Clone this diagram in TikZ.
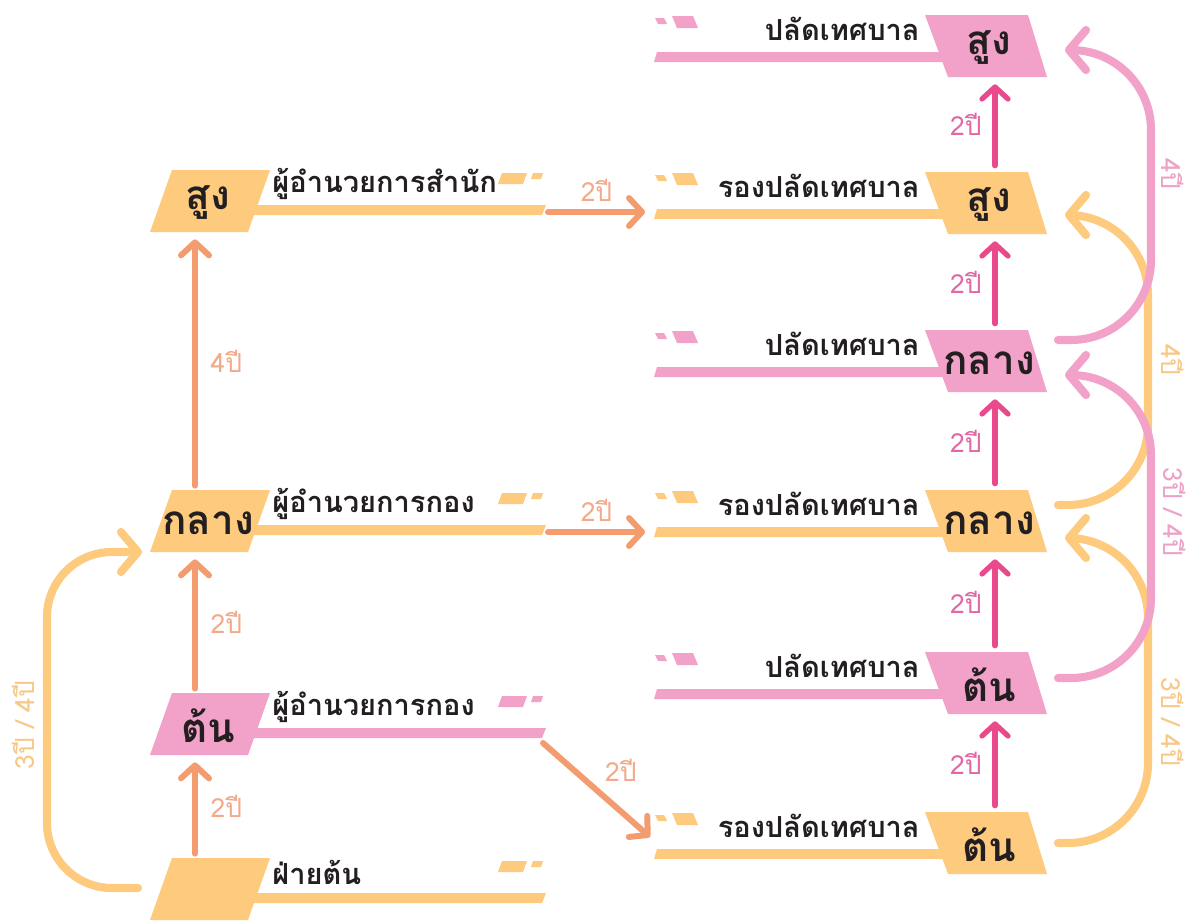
\documentclass[tikz,border=0pt]{standalone}
\usepackage{fontspec}
\newfontfamily\thaifont[Script=Thai]{Loma}
\usetikzlibrary{arrows.meta}

\definecolor{postorange}{RGB}{253,202,126}
\definecolor{postpink}{RGB}{242,161,201}
\definecolor{inkblack}{RGB}{35,31,32}
\definecolor{arrowsalmon}{RGB}{243,156,112}
\definecolor{arrowmagenta}{RGB}{232,74,140}
\definecolor{labelsalmon}{RGB}{242,170,138}
\definecolor{labelmagenta}{RGB}{226,104,164}
\definecolor{labelpink}{RGB}{236,162,198}
\definecolor{labelorange}{RGB}{247,200,134}

% right column post: name, top, colour, title, level
\newcommand{\rightpost}[5]{%
  \fill[#3] (925,#2) -- (1028,#2) -- (1047,#2+62) -- (948,#2+62) -- cycle;
  \fill[#3] (657,#2+37) -- (945,#2+37) -- (945,#2+47) -- (654,#2+47) -- cycle;
  \fill[#3] (655,#2+3) -- (664,#2+3) -- (667,#2+9) -- (658,#2+9) -- cycle;
  \fill[#3] (672,#2+1) -- (693,#2+1) -- (698,#2+13) -- (677,#2+13) -- cycle;
  \node[posttitle, anchor=east] (#1-t) at (920,#2+14) {#4};
  \node[badgetext] (#1-l) at (989,#2+33) {#5};
  \node[badgebox] (#1) at (995,#2+31) {};
  \coordinate (#1-w) at (645,#2+40);
}
% left column post: name, top, colour, title, level
\newcommand{\leftpost}[5]{%
  \fill[#3] (172,#2) -- (270,#2) -- (248,#2+62) -- (150,#2+62) -- cycle;
  \fill[#3] (250,#2+35) -- (546,#2+35) -- (542,#2+45) -- (248,#2+45) -- cycle;
  \fill[#3] (502,#2+3) -- (527,#2+3) -- (523,#2+14) -- (498,#2+14) -- cycle;
  \fill[#3] (533,#2+3) -- (543,#2+3) -- (541,#2+9) -- (531,#2+9) -- cycle;
  \node[posttitle, anchor=west] (#1-t) at (272,#2+14) {#4};
  \node[badgetext] (#1-l) at (208,#2+33) {#5};
  \node[badgebox] (#1) at (195,#2+31) {};
  \coordinate (#1-e) at (548,#2+42);
}

\begin{document}
\begin{tikzpicture}[x=0.02cm, y=-0.02cm,
    posttitle/.style={font=\thaifont\bfseries\fontsize{16.5}{20}\selectfont, text=inkblack, inner sep=0pt},
    badgetext/.style={font=\thaifont\bfseries\fontsize{23}{28}\selectfont, text=inkblack, inner sep=0pt},
    badgebox/.style={minimum width=1.6cm, minimum height=1.24cm, inner sep=0pt},
    yearlabel/.style={font=\thaifont\fontsize{15}{18}\selectfont, inner sep=1pt},
    salmonarrow/.style={draw=arrowsalmon, line width=3.4pt, line cap=round,
      -{Straight Barb[length=0.26cm,width=0.56cm,round]}},
    magentaarrow/.style={draw=arrowmagenta, line width=3pt, line cap=round,
      -{Straight Barb[length=0.24cm,width=0.52cm,round]}, shorten <=0.12cm, shorten >=0.14cm},
    loopline/.style={line width=4.6pt, line cap=round, rounded corners=1.6cm,
      -{Straight Barb[length=0.34cm,width=0.8cm,round]}},
  ]
  \fill[white] (0,0) rectangle (1190,923);
  \useasboundingbox (0,0) rectangle (1190,923);

  \rightpost{rsunga}{15}{postpink}{ปลัดเทศบาล}{สูง}
  \rightpost{rsungb}{172}{postorange}{รองปลัดเทศบาล}{สูง}
  \rightpost{rklanga}{330}{postpink}{ปลัดเทศบาล}{กลาง}
  \rightpost{rklangb}{490}{postorange}{รองปลัดเทศบาล}{กลาง}
  \rightpost{rtona}{652}{postpink}{ปลัดเทศบาล}{ต้น}
  \rightpost{rtonb}{812}{postorange}{รองปลัดเทศบาล}{ต้น}

  \leftpost{lsung}{170}{postorange}{ผู้อำนวยการสำนัก}{สูง}
  \leftpost{lklang}{490}{postorange}{ผู้อำนวยการกอง}{กลาง}
  \leftpost{lton}{693}{postpink}{ผู้อำนวยการกอง}{ต้น}
  \leftpost{lfai}{858}{postorange}{ฝ่ายต้น}{}

  \begin{scope}[salmonarrow, shorten <=0.08cm, shorten >=0.14cm]
    \draw (lfai.north) -- node[yearlabel, text=labelsalmon, right=0.22cm] {2ปี} (lton.south);
    \draw (lton.north) -- node[yearlabel, text=labelsalmon, right=0.22cm] {2ปี} (lklang.south);
    \draw (lklang.north) -- node[yearlabel, text=labelsalmon, right=0.22cm] {4ปี} (lsung.south);
  \end{scope}
  \draw[salmonarrow] (lsung-e) -- node[yearlabel, text=labelsalmon, above=0.12cm] {2ปี} (lsung-e -| rsungb-w);
  \draw[salmonarrow] (lklang-e) -- node[yearlabel, text=labelsalmon, above=0.12cm] {2ปี} (lklang-e -| rklangb-w);
  \draw[salmonarrow] ([shift={(-5,8)}]lton-e) -- node[yearlabel, text=labelsalmon, above right=0.08cm] {2ปี} ([shift={(5,-15)}]rtonb-w);

  \draw[magentaarrow] (rsungb.north) -- node[yearlabel, text=labelmagenta, left=0.18cm] {2ปี} (rsunga.south);
  \draw[magentaarrow] (rklanga.north) -- node[yearlabel, text=labelmagenta, left=0.18cm] {2ปี} (rsungb.south);
  \draw[magentaarrow] (rklangb.north) -- node[yearlabel, text=labelmagenta, left=0.18cm] {2ปี} (rklanga.south);
  \draw[magentaarrow] (rtona.north) -- node[yearlabel, text=labelmagenta, left=0.18cm] {2ปี} (rklangb.south);
  \draw[magentaarrow] (rtonb.north) -- node[yearlabel, text=labelmagenta, left=0.18cm] {2ปี} (rtona.south);

  \coordinate (orbfrom) at (1058,843);
  \coordinate (orbto) at (1065,538);
  \coordinate (oratfrom) at (1058,505);
  \coordinate (oratto) at (1065,215);
  \coordinate (pkbfrom) at (1058,678);
  \coordinate (pkbto) at (1065,375);
  \coordinate (pktfrom) at (1058,340);
  \coordinate (pktto) at (1065,50);
  \coordinate (lfrom) at (138,888);
  \coordinate (lto) at (142,552);

  \draw[loopline, postorange] (orbfrom) -| (1148,538) -- (orbto);
  \draw[loopline, postorange] (oratfrom) -| (1148,215) -- (oratto);
  \draw[loopline, postpink] (pkbfrom) -| (1151,375) -- (pkbto);
  \draw[loopline, postpink] (pktfrom) -| (1151,50) -- (pktto);
  \draw[loopline, postorange, rounded corners=1.3cm] (lfrom) -| (47,552) -- (lto);

  \node[yearlabel, text=labelpink, rotate=-90] (ypk1) at (1173,174) {4ปี};
  \node[yearlabel, text=labelorange, rotate=-90] (yor1) at (1173,360) {4ปี};
  \node[yearlabel, text=labelpink, rotate=-90] (ypk2) at (1175,512) {3ปี / 4ปี};
  \node[yearlabel, text=labelorange, rotate=-90] (yor2) at (1173,722) {3ปี / 4ปี};
  \node[yearlabel, text=labelorange, rotate=90] (yor3) at (23,725) {3ปี / 4ปี};
\end{tikzpicture}
\end{document}
